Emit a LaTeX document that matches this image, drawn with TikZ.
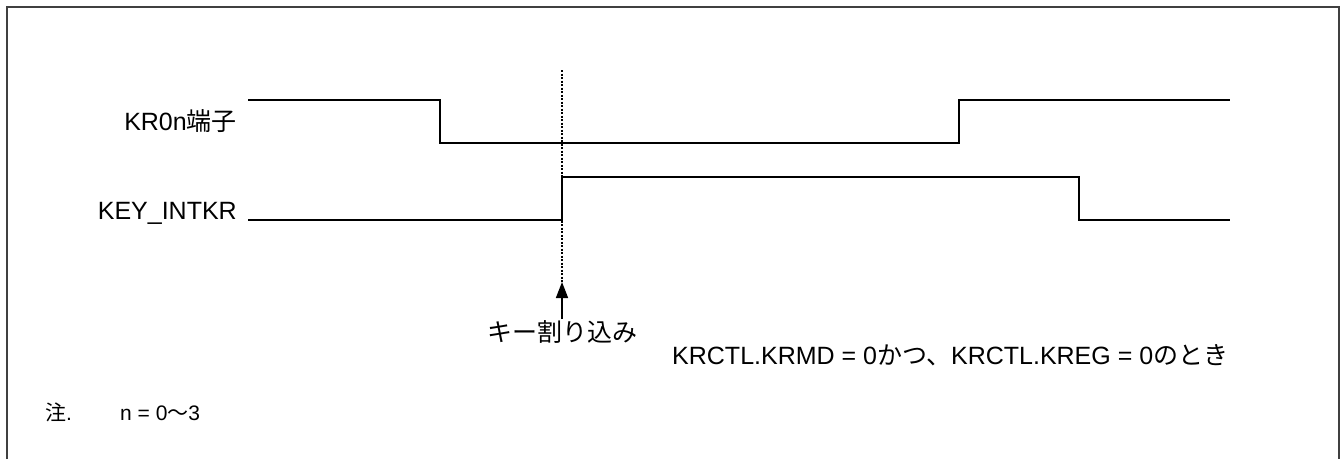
\documentclass[tikz,border=0pt]{standalone}
\usepackage{fontspec}
\setmainfont{Liberation Sans}
\newfontfamily\jp{Noto Sans CJK JP}
\usetikzlibrary{arrows.meta}
\tikzset{
  sig/.style={line width=2.2pt, line cap=butt, line join=miter},
  framebox/.style={line width=2pt, draw=black!75},
  guide/.style={line width=1.3pt, dash pattern=on 2pt off 1.5pt},
  marker/.style={line width=1.6pt, -{Triangle[length=16pt,width=12pt]}},
  lbl/.style={inner sep=0pt, font=\fontsize{25}{30}\selectfont},
  notelbl/.style={inner sep=0pt, font=\fontsize{21}{25}\selectfont}
}
\begin{document}
\begin{tikzpicture}[x=1pt,y=-1pt]
\useasboundingbox (0,0) rectangle (1341,459);
% frame (bottom edge lies outside the picture)
\draw[framebox] (7,459) -- (7,7) -- (1339,7) -- (1339,459);
% signal KR0n
\coordinate (k0) at (248,100);
\coordinate (k1) at (440,100);
\coordinate (k2) at (440,143);
\coordinate (k3) at (959,143);
\coordinate (k4) at (959,100);
\coordinate (k5) at (1230,100);
\draw[sig] (k0) -- (k1) -- (k2) -- (k3) -- (k4) -- (k5);
% signal KEY_INTKR
\coordinate (i0) at (248,220);
\coordinate (i1) at (562,220);
\coordinate (i2) at (562,177);
\coordinate (i3) at (1079,177);
\coordinate (i4) at (1079,220);
\coordinate (i5) at (1230,220);
\draw[sig] (i0) -- (i1) -- (i2) -- (i3) -- (i4) -- (i5);
% dotted guide line and arrow
\coordinate (gtop) at (562,70);
\coordinate (gbot) at (562,282);
\coordinate (abot) at (562,319);
\draw[guide] (gtop) -- (gbot);
\draw[marker] (abot) -- (gbot);
% labels
\node[lbl, anchor=base east] (lkr) at (237,130) {KR0n{\jp 端子}};
\node[lbl, anchor=base east] (lkey) at (237,219) {KEY\_INTKR};
\node[lbl, anchor=base] (lint) at (562,341) {\jp キー割り込み};
\node[lbl, anchor=base west] (lcond) at (672,364) {KRCTL.KRMD = 0{\jp かつ、}KRCTL.KREG = 0{\jp のとき}};
\node[notelbl, anchor=base west] (lnote) at (45,420) {{\jp 注}.};
\node[notelbl, anchor=base west] (lnval) at (120,420) {n = 0{\jp 〜}3};
\end{tikzpicture}
\end{document}
